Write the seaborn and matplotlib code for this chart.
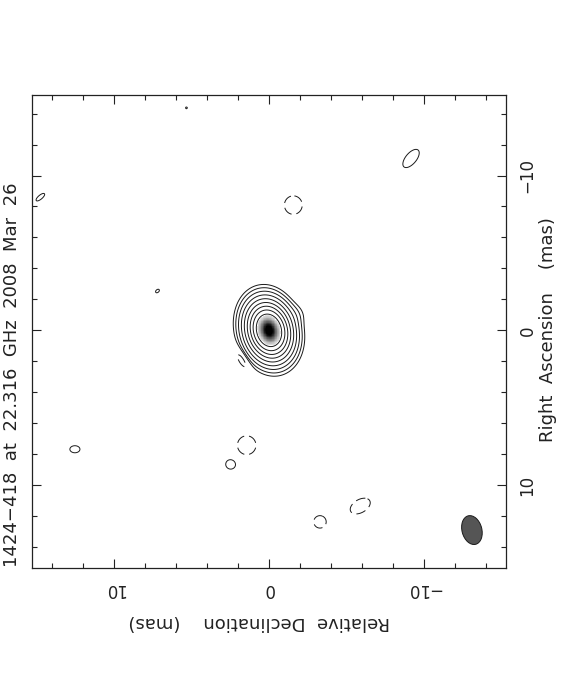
import numpy as np
import matplotlib
matplotlib.use("Agg")
import matplotlib.pyplot as plt
from matplotlib.patches import Ellipse
from matplotlib.ticker import MultipleLocator, FixedLocator, FixedFormatter
import seaborn as sns

# ---------------- data ----------------
title = "1424\u2212418  at  22.316  GHz  2008  Mar  26"
xlabel = "Relative  Declination    (mas)"
ylabel = "Right  Ascension    (mas)"
tick_values = [-10, 0, 10]
tick_labels = ["\u221210", "0", "10"]

# Gaussian components of the CLEAN map (flux relative to peak)
comp_dec = [0.0, 0.0, -1.7, -9.17, 14.76, 7.2, 5.33, 12.53, 2.47, -1.57, 1.44, -5.89, -3.29, 1.73]
comp_ra = [0.0, 0.0, -1.0, -11.1, -8.6, -2.54, -14.37, 7.68, 8.65, -8.09, 7.42, 11.35, 12.37, 1.9]
comp_amp = [0.85, 0.15, 0.0010, 0.0018, 0.0018, 0.0018, 0.0013, 0.0018, 0.0018,
            -0.0018, -0.0018, -0.0018, -0.0018, -0.0018]
comp_smaj = [0.60, 0.95, 0.45, 0.655, 0.32, 0.13, 0.08, 0.30, 0.30, 0.55, 0.56, 0.65, 0.37, 0.60]
comp_smin = [0.45, 0.71, 0.45, 0.32, 0.12, 0.085, 0.08, 0.21, 0.29, 0.53, 0.55, 0.39, 0.37, 0.24]
comp_pa = [105, 105, 90, 50, 40, 40, 0, 0, 0, 90, 90, 30, 0, 120]

pos_levels = [0.001, 0.002, 0.004, 0.008, 0.016, 0.032, 0.064, 0.128, 0.256, 0.512]
neg_levels = [-0.001]

beam_dec, beam_ra = -13.1, 12.9
beam_major, beam_minor, beam_angle = 1.9, 1.28, 105

# ---------------- build map ----------------
dec = np.linspace(-15.6, 15.6, 781)
ra = np.linspace(-15.6, 15.6, 781)
D, R = np.meshgrid(dec, ra)
field = np.zeros_like(D)
for d0, r0, a, smj, smn, pa in zip(comp_dec, comp_ra, comp_amp, comp_smaj, comp_smin, comp_pa):
    X = -(D - d0)
    Y = -(R - r0)
    t = np.deg2rad(pa)
    u = X * np.cos(t) + Y * np.sin(t)
    v = -X * np.sin(t) + Y * np.cos(t)
    field += a * np.exp(-0.5 * ((u / smj) ** 2 + (v / smn) ** 2))

# ---------------- plot ----------------
sns.set_theme(style="white")
plt.rcParams['font.family'] = ['DejaVu Sans']
plt.rcParams['axes.linewidth'] = 0.8

W, H = 570, 688
fig = plt.figure(figsize=(W / 100, H / 100), dpi=100)
fig.patch.set_facecolor('white')
L, T, Rr, B = 32, 95, 506, 568
ax = fig.add_axes([L / W, 1 - B / H, (Rr - L) / W, (B - T) / H])
ax.set_facecolor('white')

ax.contour(dec, ra, field, levels=pos_levels, colors='k', linewidths=0.7, zorder=2)
ax.contour(dec, ra, field, levels=neg_levels, colors='k', linewidths=0.7,
           linestyles=[(0, (10, 5))], zorder=2)
gray = np.ma.masked_less(field, 0.3)
ax.imshow(gray, extent=[dec[0], dec[-1], ra[0], ra[-1]], origin='lower',
          cmap='Greys', vmin=0.15, vmax=0.9, aspect='auto', interpolation='nearest',
          zorder=3)

ax.add_patch(Ellipse((beam_dec, beam_ra), beam_major, beam_minor, angle=beam_angle,
                     facecolor='#555555', edgecolor='k', linewidth=0.7, zorder=4))

ax.set_xlim(15.3, -15.3)
ax.set_ylim(15.35, -15.2)

for sp in ax.spines.values():
    sp.set_color('#222222')
    sp.set_linewidth(0.9)

ax.xaxis.set_major_locator(FixedLocator(tick_values))
ax.xaxis.set_major_formatter(FixedFormatter(tick_labels))
ax.yaxis.set_major_locator(FixedLocator(tick_values))
ax.yaxis.set_major_formatter(FixedFormatter(tick_labels))
ax.xaxis.set_minor_locator(MultipleLocator(2))
ax.yaxis.set_minor_locator(MultipleLocator(2))
ax.tick_params(axis='both', which='both', direction='in', top=True, bottom=True,
               left=True, right=True, labelleft=False, labelright=True,
               labelbottom=True, colors='#222222', labelcolor='#222222')
ax.tick_params(which='major', length=6.5, width=0.8)
ax.tick_params(which='minor', length=3.6, width=0.8)
ax.tick_params(axis='x', pad=9, labelsize=12, labelrotation=180)
ax.tick_params(axis='y', pad=9, labelsize=12, labelrotation=90)
for lbl in ax.get_yticklabels():
    lbl.set_va('center')

def fx(x):
    return x / W

def fy(y):
    return 1 - y / H

fig.text(fx(12.5), fy(567), title, rotation=90, ha='center', va='bottom',
         fontsize=13, color='#222222')
fig.text(fx(548), fy(330), ylabel, rotation=90, ha='center', va='center',
         fontsize=13, color='#222222')
fig.text(fx(259), fy(622), xlabel, rotation=180, ha='center', va='center',
         fontsize=13, color='#222222')

fig.savefig('out.png', dpi=100, facecolor='white')
